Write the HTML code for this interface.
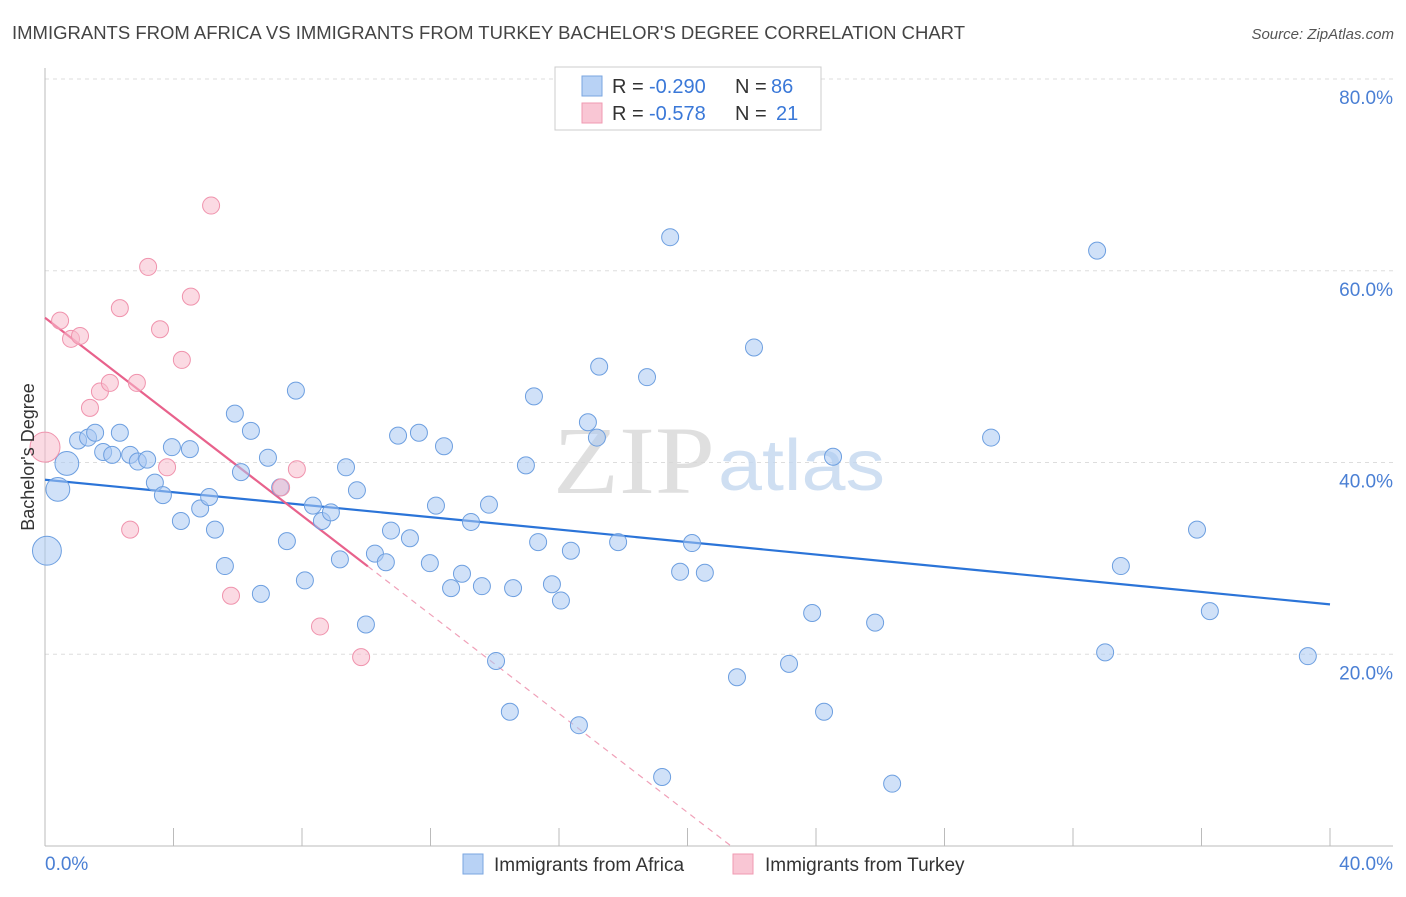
<!DOCTYPE html>
<html><head><meta charset="utf-8"><style>
body{margin:0;background:#fff;font-family:"Liberation Sans",sans-serif;}
</style></head><body>
<svg id="chart" width="1406" height="892" xmlns="http://www.w3.org/2000/svg" font-family="Liberation Sans, sans-serif">
<text x="12" y="39" font-size="18" fill="#444" textLength="953" lengthAdjust="spacingAndGlyphs">IMMIGRANTS FROM AFRICA VS IMMIGRANTS FROM TURKEY BACHELOR'S DEGREE CORRELATION CHART</text>
<text x="1394" y="39" font-size="15" font-style="italic" fill="#555" text-anchor="end">Source: ZipAtlas.com</text>
<g id="grid"></g>
<g>
<text x="553" y="493" font-size="96" font-family="Liberation Serif, serif" fill="#d8d8d8" opacity="0.8" textLength="162" lengthAdjust="spacingAndGlyphs">ZIP</text>
<text x="718" y="490" font-size="72" fill="#c4d8f0" opacity="0.8" textLength="167" lengthAdjust="spacingAndGlyphs">atlas</text>
</g>
<g id="lines"></g>
<g id="points"></g>
<text transform="translate(34,457) rotate(-90)" font-size="18" fill="#333" text-anchor="middle">Bachelor's Degree</text>
<g>
<rect x="555" y="67" width="266" height="63" fill="#fff" stroke="#ccc"/>
<rect x="582" y="76" width="20" height="20" fill="#b8d2f5" stroke="#7aa6e0"/>
<rect x="582" y="103" width="20" height="20" fill="#f9c6d4" stroke="#f09ab2"/>
<text x="612" y="93" font-size="20" fill="#333">R =</text>
<text x="649" y="93" font-size="20" fill="#3a78d8">-0.290</text>
<text x="735" y="93" font-size="20" fill="#333">N =</text>
<text x="771" y="93" font-size="20" fill="#3a78d8">86</text>
<text x="612" y="120" font-size="20" fill="#333">R =</text>
<text x="649" y="120" font-size="20" fill="#3a78d8">-0.578</text>
<text x="735" y="120" font-size="20" fill="#333">N =</text>
<text x="776" y="120" font-size="20" fill="#3a78d8">21</text>
</g>
<g>
<rect x="463" y="854" width="20" height="20" fill="#b8d2f5" stroke="#7aa6e0"/>
<text x="494" y="871" font-size="19" fill="#333">Immigrants from Africa</text>
<rect x="733" y="854" width="20" height="20" fill="#f9c6d4" stroke="#f09ab2"/>
<text x="765" y="871" font-size="19" fill="#333">Immigrants from Turkey</text>
</g>
</svg>
<script>
const yTicks=[20,40,60,80];
const yTickLabels=["20.0%","40.0%","60.0%","80.0%"];
const xTicks=[0,4,8,12,16,20,24,28,32,36,40];
const africaX=[0.68,0.40,0.06,1.03,1.34,1.56,1.81,2.09,2.33,2.65,2.89,3.18,3.42,3.67,3.95,4.23,4.51,4.83,5.11,5.29,5.60,5.91,6.10,6.41,6.72,6.94,7.32,7.53,7.81,8.09,8.34,8.62,8.90,9.18,9.37,9.71,9.99,10.27,10.61,10.77,10.99,11.36,11.64,11.98,12.17,12.42,12.64,12.98,13.26,13.60,13.82,14.04,14.47,14.57,14.97,15.22,15.35,15.78,16.06,16.37,16.62,16.90,17.18,17.25,17.84,18.74,19.21,19.46,19.77,20.14,20.54,21.54,22.07,23.16,23.88,24.25,24.53,25.84,26.37,29.45,32.75,33.00,33.49,35.86,36.26,39.31];
const africaY=[39.9,37.2,30.8,42.3,42.6,43.1,41.1,40.8,43.1,40.8,40.1,40.3,37.9,36.6,41.6,33.9,41.4,35.2,36.4,33.0,29.2,45.1,39.0,43.3,26.3,40.5,37.4,31.8,47.5,27.7,35.5,33.9,34.8,29.9,39.5,37.1,23.1,30.5,29.6,32.9,42.8,32.1,43.1,29.5,35.5,41.7,26.9,28.4,33.8,27.1,35.6,19.3,14.0,26.9,39.7,46.9,31.7,27.3,25.6,30.8,12.6,44.2,42.6,50.0,31.7,48.9,7.2,63.5,28.6,31.6,28.5,17.6,52.0,19.0,24.3,14.0,40.6,23.3,6.5,42.6,62.1,20.2,29.2,33.0,24.5,19.8];
const africaBig=[1.4,1.4,1.7];
const turkeyX=[0,0.47,0.81,1.09,1.40,1.71,2.02,2.33,2.86,2.65,3.21,3.58,3.80,4.26,4.54,5.17,5.79,7.35,7.84,8.56,9.84];
const turkeyY=[41.6,54.8,52.9,53.2,45.7,47.4,48.3,56.1,48.3,33.0,60.4,53.9,39.5,50.7,57.3,66.8,26.1,37.4,39.3,22.9,19.7];
const africaTrend=[38.2,-0.325];   // intercept, slope
const turkeyTrend=[55.1,-2.58];
const turkeySolidEnd=10.05;

const NS="http://www.w3.org/2000/svg";
const X0=45,X1=1330,Y0=846,Y80=79;
const sx=v=>X0+(v/40)*(X1-X0);
const sy=v=>Y0-(v/80)*(Y0-Y80);
function mk(tag,attrs,parent){const e=document.createElementNS(NS,tag);for(const k in attrs)e.setAttribute(k,attrs[k]);parent.appendChild(e);return e;}
const grid=document.getElementById('grid');
yTicks.forEach((t,i)=>{
  const l=mk('line',{x1:X0,x2:1393,y1:sy(t),y2:sy(t),stroke:'#ddd','stroke-dasharray':'4,4'},grid);
  
  
  const tx=mk('text',{x:1393,y:sy(t)+25,'font-size':19,fill:'#4a7fd4','text-anchor':'end'},grid);
  tx.textContent=yTickLabels[i];
  
  
});
const ax=mk('line',{x1:X0,x2:1393,y1:Y0,y2:Y0,stroke:'#bbb'},grid);


const ay=mk('line',{x1:X0,x2:X0,y1:68,y2:Y0,stroke:'#bbb'},grid);


xTicks.forEach(t=>{
  const l=mk('line',{x1:sx(t),x2:sx(t),y1:Y0,y2:Y0-18,stroke:'#bbb'},grid);
  
  
});
const xl0=mk('text',{x:X0,y:870,'font-size':19,fill:'#4a7fd4'},grid);xl0.textContent="0.0%";


const xl1=mk('text',{x:1393,y:870,'font-size':19,fill:'#4a7fd4','text-anchor':'end'},grid);xl1.textContent="40.0%";



const pts=document.getElementById('points');
africaX.forEach((x,i)=>{
  const r=8.5*(africaBig[i]||1);
  const c=mk('circle',{cx:sx(x),cy:sy(africaY[i]),r:r,fill:'#a9c9f2','fill-opacity':0.55,stroke:'#6d9fe0','stroke-width':1},pts);
  
  
});
turkeyX.forEach((x,i)=>{
  const r=i===0?15:8.5;
  const c=mk('circle',{cx:sx(x),cy:sy(turkeyY[i]),r:r,fill:'#f8bccc','fill-opacity':0.55,stroke:'#f093ad','stroke-width':1},pts);
  
  
});
const ln=document.getElementById('lines');
const a=mk('line',{x1:sx(0),y1:sy(africaTrend[0]),x2:sx(40),y2:sy(africaTrend[0]+africaTrend[1]*40),stroke:'#2b74d8','stroke-width':2.2},ln);


const tEnd=turkeyTrend[0]+turkeyTrend[1]*turkeySolidEnd;
const zeroX=-turkeyTrend[0]/turkeyTrend[1];
const td=mk('line',{x1:sx(turkeySolidEnd),y1:sy(tEnd),x2:sx(zeroX),y2:sy(0),stroke:'#f0a0b8','stroke-width':1.2,'stroke-dasharray':'6,5'},ln);


const t=mk('line',{x1:sx(0),y1:sy(turkeyTrend[0]),x2:sx(turkeySolidEnd),y2:sy(tEnd),stroke:'#e8628c','stroke-width':2.2},ln);


</script>
</body></html>
